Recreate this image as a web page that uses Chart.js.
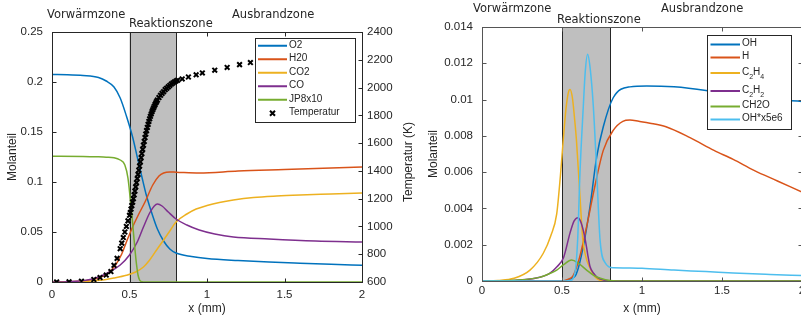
<!DOCTYPE html>
<html>
<head>
<meta charset="utf-8">
<script src="https://cdn.jsdelivr.net/npm/chart.js@4.4.1/dist/chart.umd.min.js"></script>
<style>
  html, body { margin: 0; padding: 0; background: #fff; }
  #wrap { position: relative; width: 801px; height: 320px; overflow: hidden; }
  #links { position: absolute; left: 0; top: 0; }
  #rechts { position: absolute; left: 400px; top: 0; }
</style>
</head>
<body>
<div id="wrap">
  <canvas id="links" width="420" height="320"></canvas>
  <canvas id="rechts" width="440" height="320"></canvas>
</div>
<script>
// ---- Daten links: Molanteile + Temperatur ----
var xTicks = [0, 0.5, 1, 1.5, 2];
var molTicksL = [0, 0.05, 0.1, 0.15, 0.2, 0.25];
var tempTicks = [600, 800, 1000, 1200, 1400, 1600, 1800, 2000, 2200, 2400];
var molTicksR = [0, 0.002, 0.004, 0.006, 0.008, 0.01, 0.012, 0.014];
var zoneBounds = [0.5, 0.8];
var zoneNames = ['Vorwärmzone', 'Reaktionszone', 'Ausbrandzone'];

var xO2 = [0, 0.1, 0.2, 0.3, 0.35, 0.4, 0.44, 0.48, 0.52, 0.55, 0.58, 0.61, 0.65, 0.68, 0.72, 0.76, 0.8, 0.9, 1.0, 1.2, 1.4, 1.6, 1.8, 2.0];
var yO2 = [0.2075, 0.2073, 0.2065, 0.2045, 0.201, 0.195, 0.184, 0.166, 0.145, 0.125, 0.105, 0.086, 0.066, 0.053, 0.041, 0.033, 0.029, 0.0255, 0.0235, 0.0215, 0.02, 0.0188, 0.0177, 0.0167];

var xH2O = [0, 0.2, 0.29, 0.33, 0.37, 0.41, 0.45, 0.48, 0.52, 0.56, 0.6, 0.65, 0.69, 0.72, 0.76, 0.8, 0.95, 1.2, 1.5, 1.8, 2.0];
var yH2O = [0, 0.001, 0.0035, 0.006, 0.01, 0.017, 0.028, 0.04, 0.055, 0.068, 0.08, 0.097, 0.106, 0.109, 0.11, 0.1098, 0.109, 0.111, 0.1125, 0.114, 0.115];

var xCO2 = [0, 0.2, 0.31, 0.4, 0.48, 0.54, 0.59, 0.63, 0.67, 0.72, 0.76, 0.8, 0.87, 0.93, 1.0, 1.08, 1.17, 1.3, 1.45, 1.6, 1.8, 2.0];
var yCO2 = [0, 0.0005, 0.0017, 0.004, 0.0067, 0.01, 0.015, 0.022, 0.031, 0.042, 0.051, 0.06, 0.068, 0.073, 0.0765, 0.0795, 0.082, 0.0845, 0.086, 0.087, 0.088, 0.089];

var xCO = [0, 0.1, 0.22, 0.3, 0.37, 0.44, 0.5, 0.55, 0.59, 0.63, 0.66, 0.68, 0.71, 0.75, 0.8, 0.87, 0.95, 1.05, 1.17, 1.4, 1.7, 2.0];
var yCO = [0, 0.0003, 0.0017, 0.005, 0.01, 0.017, 0.027, 0.04, 0.055, 0.069, 0.076, 0.078, 0.076, 0.07, 0.063, 0.057, 0.052, 0.048, 0.045, 0.043, 0.041, 0.04];

var xJP8 = [0, 0.2, 0.3, 0.35, 0.4, 0.44, 0.47, 0.49, 0.505, 0.515, 0.525, 0.535, 0.545, 0.555, 0.565, 0.58, 0.6, 1.0, 2.0];
var yJP8 = [0.1257, 0.1256, 0.1252, 0.1248, 0.1243, 0.122, 0.117, 0.104, 0.083, 0.068, 0.05, 0.033, 0.018, 0.007, 0.002, 0.0003, 0, 0, 0];

var xTemp = [0.03, 0.11, 0.19, 0.27, 0.31, 0.35, 0.38, 0.40, 0.42, 0.44, 0.45, 0.46, 0.47, 0.48, 0.49, 0.50,
  0.505, 0.51, 0.515, 0.52, 0.525, 0.53, 0.535, 0.54, 0.545, 0.55, 0.555, 0.56, 0.565, 0.57, 0.575, 0.58,
  0.585, 0.59, 0.595, 0.60, 0.605, 0.61, 0.615, 0.62, 0.625, 0.63, 0.635, 0.64, 0.645, 0.65, 0.655, 0.66,
  0.665, 0.67, 0.675, 0.68, 0.69, 0.70, 0.71, 0.72, 0.73, 0.74, 0.75, 0.76, 0.77, 0.78, 0.79, 0.80,
  0.81, 0.84, 0.88, 0.93, 0.97, 1.05, 1.13, 1.21, 1.28, 1.36, 1.44, 1.52, 1.60, 1.70, 1.80, 1.90];
var yTemp = [600, 601, 606, 618, 632, 650, 675, 720, 770, 840, 880, 920, 960, 1000, 1040, 1080,
  1100, 1125, 1150, 1175, 1200, 1228, 1255, 1285, 1315, 1345, 1375, 1405, 1435, 1465, 1495, 1525,
  1555, 1585, 1612, 1640, 1665, 1690, 1713, 1735, 1756, 1775, 1793, 1810, 1826, 1840, 1853, 1866,
  1878, 1890, 1900, 1910, 1928, 1944, 1958, 1970, 1985, 1995, 2005, 2015, 2025, 2033, 2040, 2047,
  2052, 2062, 2076, 2092, 2105, 2125, 2145, 2165, 2180, 2195, 2210, 2222, 2234, 2248, 2260, 2270];

// ---- Daten rechts: Radikale ----
var xOH = [0, 0.5, 0.55, 0.59, 0.633, 0.675, 0.717, 0.758, 0.82, 0.925, 1.03, 1.2, 1.4, 1.6, 1.8, 2.0];
var yOH = [0, 0, 0.0001, 0.0004, 0.0019, 0.0041, 0.00685, 0.0085, 0.0101, 0.0107, 0.01075, 0.0107, 0.0105, 0.0102, 0.01, 0.0099];

var xH = [0, 0.5, 0.54, 0.57, 0.61, 0.654, 0.7, 0.758, 0.82, 0.88, 0.925, 0.98, 1.05, 1.15, 1.3, 1.45, 1.57, 1.7, 1.85, 2.0];
var yH = [0, 0, 0.0001, 0.0003, 0.0013, 0.003, 0.005, 0.0072, 0.0083, 0.0088, 0.00887, 0.0088, 0.0087, 0.0085, 0.0079, 0.0072, 0.0067, 0.0061, 0.0055, 0.0049];

var xC2H4 = [0, 0.1, 0.2, 0.3, 0.383, 0.43, 0.467, 0.49, 0.508, 0.525, 0.54, 0.55, 0.565, 0.578, 0.59, 0.61, 0.63, 0.65, 0.67, 0.71, 0.76, 2.0];
var yC2H4 = [0, 0.00003, 0.00015, 0.0006, 0.00153, 0.0025, 0.0037, 0.0058, 0.0078, 0.0095, 0.0104, 0.01056, 0.0101, 0.009, 0.0078, 0.005, 0.0023, 0.0013, 0.0008, 0.0002, 0, 0];

var xC2H2 = [0, 0.2, 0.34, 0.425, 0.47, 0.51, 0.55, 0.575, 0.6, 0.62, 0.645, 0.66, 0.675, 0.7, 0.72, 0.76, 0.8, 2.0];
var yC2H2 = [0, 0.00003, 0.00016, 0.00044, 0.0008, 0.0013, 0.00264, 0.0033, 0.00349, 0.0032, 0.0023, 0.0015, 0.0008, 0.0004, 0.0002, 0.00005, 0, 0];

var xCH2O = [0, 0.2, 0.36, 0.42, 0.467, 0.51, 0.56, 0.6, 0.654, 0.7, 0.74, 0.8, 0.9, 2.0];
var yCH2O = [0, 0.00004, 0.0002, 0.0004, 0.0006, 0.0009, 0.00116, 0.001, 0.0006, 0.0003, 0.00015, 0.00003, 0, 0];

var xOHs = [0, 0.5, 0.55, 0.58, 0.598, 0.6125, 0.633, 0.645, 0.66, 0.675, 0.696, 0.717, 0.7375, 0.77, 0.82, 0.925, 1.0, 1.2, 1.4, 1.57, 1.8, 2.0];
var yOHs = [0, 0, 0.00003, 0.0004, 0.0023, 0.006, 0.0096, 0.0115, 0.0125, 0.0118, 0.0096, 0.006, 0.0023, 0.001, 0.00073, 0.00072, 0.0007, 0.0006, 0.00052, 0.00044, 0.00036, 0.0003];

var txt = '#262626';
var sans = '"Liberation Sans", Arial, sans-serif';
Chart.defaults.font.family = sans;
Chart.defaults.color = txt;

function pts(xs, ys) {
  return xs.map(function (x, i) { return { x: x, y: ys[i] }; });
}

function line(label, xs, ys, color, i) {
  return {
    label: label, data: pts(xs, ys), borderColor: color, backgroundColor: color,
    borderWidth: 1.5, pointRadius: 0, cubicInterpolationMode: 'monotone', order: 20 - i
  };
}

function fmt(v) { return String(parseFloat(v.toFixed(6))); }

function setTicks(arr) {
  return function (s) { s.ticks = arr.map(function (v) { return { value: v }; }); };
}

function fixW(w) { return function (s) { s.width = w; }; }
function fixH(h) { return function (s) { s.height = h; }; }

// text with _x subscripts, e.g. C_2H_4
function drawRich(ctx, label, x, y) {
  var parts = label.split(/(_.)/);
  parts.forEach(function (p) {
    if (!p) return;
    if (p.charAt(0) === '_') {
      ctx.font = '7px ' + sans;
      ctx.fillText(p.charAt(1), x, y + 4);
      x += ctx.measureText(p.charAt(1)).width;
    } else {
      ctx.font = '10px ' + sans;
      ctx.fillText(p, x, y - 1.5);
      x += ctx.measureText(p).width;
    }
  });
}

function makeFrame(cfg) {
  return {
    id: 'frame',
    beforeDatasetsDraw: function (chart) {
      var ctx = chart.ctx, a = chart.chartArea, xs = chart.scales.x;
      var x0 = xs.getPixelForValue(zoneBounds[0]), x1 = xs.getPixelForValue(zoneBounds[1]);
      ctx.save();
      ctx.fillStyle = '#bfbfbf';
      ctx.fillRect(x0, a.top, x1 - x0, a.bottom - a.top);
      ctx.strokeStyle = '#262626';
      ctx.lineWidth = 1;
      ctx.beginPath();
      ctx.moveTo(Math.round(x0) + 0.5, a.top); ctx.lineTo(Math.round(x0) + 0.5, a.bottom);
      ctx.moveTo(Math.round(x1) + 0.5, a.top); ctx.lineTo(Math.round(x1) + 0.5, a.bottom);
      ctx.stroke();
      ctx.restore();
    },
    afterDatasetsDraw: function (chart) {
      var ctx = chart.ctx, a = chart.chartArea;
      var xs = chart.scales.x, yl = chart.scales.y, yr = chart.scales[cfg.rightScale];
      var L = Math.floor(a.left) + 0.5, R = Math.floor(a.right) + 0.5;
      var T = Math.floor(a.top) + 0.5, B = Math.floor(a.bottom) + 0.5;
      ctx.save();
      ctx.strokeStyle = cfg.axisColor;
      ctx.lineWidth = 1;
      ctx.strokeRect(L, T, R - L, B - T);
      ctx.beginPath();
      xs.ticks.forEach(function (t) {
        var p = Math.round(xs.getPixelForValue(t.value)) + 0.5;
        ctx.moveTo(p, B); ctx.lineTo(p, B - 4);
        ctx.moveTo(p, T); ctx.lineTo(p, T + 4);
      });
      yl.ticks.forEach(function (t) {
        var p = Math.round(yl.getPixelForValue(t.value)) + 0.5;
        ctx.moveTo(L, p); ctx.lineTo(L + 4, p);
      });
      yr.ticks.forEach(function (t) {
        var p = Math.round(yr.getPixelForValue(t.value)) + 0.5;
        ctx.moveTo(R, p); ctx.lineTo(R - 4, p);
      });
      ctx.stroke();

      // Legende
      var lg = cfg.legend;
      ctx.fillStyle = '#fff';
      ctx.fillRect(lg.x, lg.y, lg.w, lg.h);
      ctx.strokeStyle = '#262626';
      ctx.strokeRect(lg.x + 0.5, lg.y + 0.5, lg.w, lg.h);
      var ry = lg.y + lg.pad;
      chart.data.datasets.forEach(function (ds) {
        var h = ds.label.indexOf('_') >= 0 ? 18 : lg.rowH;
        var cy = ry + h / 2;
        if (ds.showLine === false) {
          var cx = lg.x + (lg.l0 + lg.l1) / 2;
          ctx.strokeStyle = ds.pointBorderColor;
          ctx.lineWidth = 2;
          ctx.beginPath();
          ctx.moveTo(cx - 2.5, cy - 2.5); ctx.lineTo(cx + 2.5, cy + 2.5);
          ctx.moveTo(cx - 2.5, cy + 2.5); ctx.lineTo(cx + 2.5, cy - 2.5);
          ctx.stroke();
        } else {
          ctx.strokeStyle = ds.borderColor;
          ctx.lineWidth = 2;
          ctx.beginPath();
          ctx.moveTo(lg.x + lg.l0, cy); ctx.lineTo(lg.x + lg.l1, cy);
          ctx.stroke();
        }
        ctx.fillStyle = txt;
        ctx.textAlign = 'left';
        ctx.textBaseline = 'middle';
        drawRich(ctx, ds.label, lg.x + lg.tx, cy + 0.5);
        ry += h;
      });

      // Zonenbeschriftung
      ctx.font = '11.5px "DejaVu Sans", sans-serif';
      ctx.fillStyle = txt;
      ctx.textAlign = 'left';
      ctx.textBaseline = 'middle';
      zoneNames.forEach(function (n, i) {
        ctx.fillText(n, a.left + cfg.zoneDx[i], a.top + cfg.zoneDy[i]);
      });

      // rechte Achsenbeschriftung (von unten nach oben)
      if (cfg.rightTitle) {
        ctx.font = '12px ' + sans;
        ctx.textAlign = 'center';
        ctx.translate(cfg.rightTitle.x, cfg.rightTitle.y);
        ctx.rotate(-Math.PI / 2);
        ctx.fillText(cfg.rightTitle.text, 0, 0);
      }
      ctx.restore();
    }
  };
}

var tickFont = { size: 11.5 };
var titleFont = { size: 12 };

new Chart(document.getElementById('links'), {
  type: 'line',
  data: {
    datasets: [
      line('O2', xO2, yO2, '#0072BD', 0),
      line('H20', xH2O, yH2O, '#D95319', 1),
      line('CO2', xCO2, yCO2, '#EDB120', 2),
      line('CO', xCO, yCO, '#7E2F8E', 3),
      line('JP8x10', xJP8, yJP8, '#77AC30', 4),
      {
        label: 'Temperatur', data: pts(xTemp, yTemp), yAxisID: 'yT', showLine: false,
        pointStyle: 'crossRot', pointRadius: 3.3, pointBorderWidth: 2,
        pointBorderColor: '#000', pointBackgroundColor: '#000', order: 1
      }
    ]
  },
  options: {
    responsive: false, animation: false, devicePixelRatio: 1,
    layout: { padding: { top: 32, left: 0, right: 0, bottom: 0 } },
    plugins: { legend: { display: false }, tooltip: { enabled: false } },
    scales: {
      x: {
        type: 'linear', min: 0, max: 2, afterBuildTicks: setTicks(xTicks), afterFit: fixH(38),
        grid: { display: false, drawTicks: false }, border: { display: false },
        ticks: { font: tickFont, padding: 6, autoSkip: false, maxRotation: 0, callback: fmt },
        title: { display: true, text: 'x (mm)', font: titleFont, padding: { top: 0, bottom: 4 } }
      },
      y: {
        type: 'linear', position: 'left', min: 0, max: 0.25, afterBuildTicks: setTicks(molTicksL), afterFit: fixW(52),
        grid: { display: false, drawTicks: false }, border: { display: false },
        ticks: { font: tickFont, padding: 9, autoSkip: false, callback: fmt },
        title: { display: true, text: 'Molanteil', font: titleFont, padding: { top: 5, bottom: 0 } }
      },
      yT: {
        type: 'linear', position: 'right', min: 600, max: 2400, afterBuildTicks: setTicks(tempTicks), afterFit: fixW(58),
        grid: { display: false, drawTicks: false }, border: { display: false },
        ticks: { font: tickFont, padding: 5, autoSkip: false, callback: fmt }
      }
    }
  },
  plugins: [makeFrame({
    rightScale: 'yT', axisColor: '#262626',
    legend: { x: 255, y: 38, w: 100, h: 84, pad: 1, rowH: 13.5, l0: 3, l1: 32, tx: 34 },
    zoneDx: [-5, 77, 180], zoneDy: [-16.7, -7.7, -16.7],
    rightTitle: { text: 'Temperatur (K)', x: 409, y: 162 }
  })]
});

new Chart(document.getElementById('rechts'), {
  type: 'line',
  data: {
    datasets: [
      line('OH', xOH, yOH, '#0072BD', 0),
      line('H', xH, yH, '#D95319', 1),
      line('C_2H_4', xC2H4, yC2H4, '#EDB120', 2),
      line('C_2H_2', xC2H2, yC2H2, '#7E2F8E', 3),
      line('CH2O', xCH2O, yCH2O, '#77AC30', 4),
      line('OH*x5e6', xOHs, yOHs, '#4DBEEE', 5)
    ]
  },
  options: {
    responsive: false, animation: false, devicePixelRatio: 1,
    layout: { padding: { top: 27, left: 0, right: 38, bottom: 0 } },
    plugins: { legend: { display: false }, tooltip: { enabled: false } },
    scales: {
      x: {
        type: 'linear', min: 0, max: 2, afterBuildTicks: setTicks(xTicks), afterFit: fixH(39),
        grid: { display: false, drawTicks: false }, border: { display: false },
        ticks: { font: tickFont, padding: 3, autoSkip: false, maxRotation: 0, callback: fmt },
        title: { display: true, text: 'x (mm)', font: titleFont, padding: { top: 0, bottom: 4 } }
      },
      y: {
        type: 'linear', position: 'left', min: 0, max: 0.014, afterBuildTicks: setTicks(molTicksR), afterFit: fixW(82),
        grid: { display: false, drawTicks: false }, border: { display: false },
        ticks: { font: tickFont, padding: 9, autoSkip: false, callback: fmt },
        title: { display: true, text: 'Molanteil', font: titleFont, padding: { top: 26, bottom: 0 } }
      }
    }
  },
  plugins: [makeFrame({
    rightScale: 'y', axisColor: '#555555',
    legend: { x: 307, y: 35, w: 84, h: 94, pad: 3, rowH: 13, l0: 3.5, l1: 33, tx: 35 },
    zoneDx: [-9, 75, 179], zoneDy: [-18.4, -7.2, -18.4],
    rightTitle: null
  })]
});
</script>
</body>
</html>
